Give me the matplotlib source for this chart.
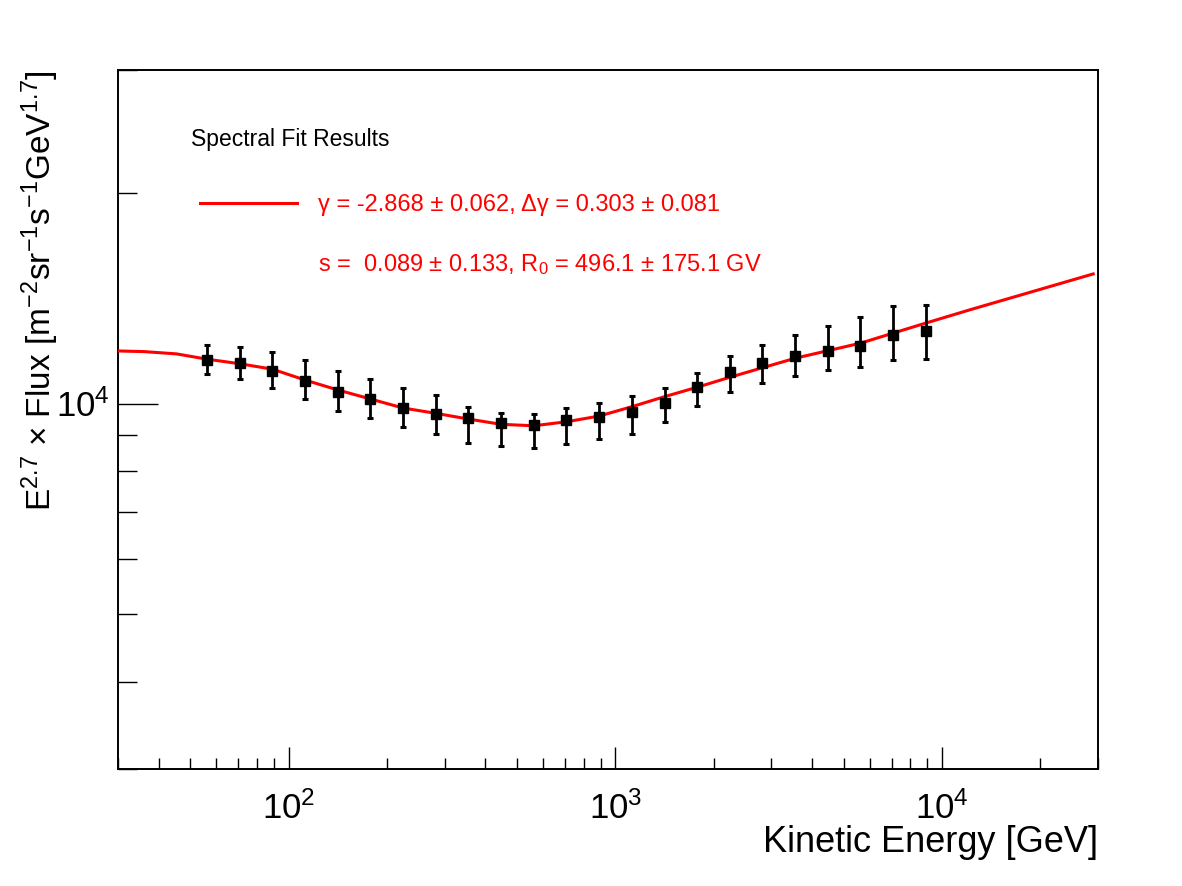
import matplotlib as mpl
mpl.use("Agg")
import matplotlib.pyplot as plt
from matplotlib.ticker import LogLocator, NullFormatter, LogFormatterSciNotation

plt.rcParams["font.family"] = ["Liberation Sans", "DejaVu Sans"]
plt.rcParams["mathtext.fontset"] = "custom"
plt.rcParams["mathtext.rm"] = "Liberation Sans"
plt.rcParams["mathtext.it"] = "Liberation Sans:italic"
plt.rcParams["mathtext.bf"] = "Liberation Sans:bold"

# ---- data points ----
energy = [56.2, 70.8, 89.1, 112.2, 141.3, 177.8, 223.9, 281.8, 354.8, 446.7, 562.3, 707.9,
          891.3, 1122, 1413, 1778, 2239, 2818, 3548, 4467, 5623, 7079, 8913]
flux = [11546, 11422, 11146, 10783, 10397, 10150, 9843, 9659, 9542, 9368, 9315, 9461,
        9564, 9732, 10016, 10560, 11108, 11422, 11711, 11895, 12105, 12542, 12679]
err_up = [587, 618, 698, 763, 736, 695, 682, 626, 333, 324, 344, 382,
          462, 519, 503, 512, 579, 699, 831, 1012, 1203, 1227, 1167]
err_lo = [533, 577, 631, 644, 642, 626, 581, 602, 756, 678, 673, 704,
          680, 691, 614, 642, 721, 711, 749, 737, 835, 986, 1115]

# ---- fitted curve ----
fit_e = [30, 36, 45.3, 56.2, 70.8, 89.1, 112.2, 141.3, 177.8, 223.9, 281.8, 354.8, 446.7,
         562.3, 707.9, 891.3, 1122, 1413, 1778, 2239, 3548, 5623, 8913, 12180, 29000]
fit_flux = [11890, 11865, 11776, 11572, 11400, 11197, 10803, 10456, 10150, 9852, 9682, 9501,
            9337, 9293, 9416, 9595, 9895, 10228, 10550, 10903, 11608, 12199, 13034, 13619,
            15324]

title_txt = "Spectral Fit Results"
fit_line1 = "γ = -2.868 ± 0.062, Δγ = 0.303 ± 0.081"
fit_line2 = "s =  0.089 ± 0.133, R$_0$ = 496.1 ± 175.1 GV"

W, H = 1182, 886
fig = plt.figure(figsize=(W / 100, H / 100), dpi=100)
ax = fig.add_axes([118 / W, 1 - 769 / H, 980 / W, 699 / H])

ax.plot(fit_e, fit_flux, color="#ff0000", lw=2.2, zorder=3)
ax.errorbar(energy, flux, yerr=[err_lo, err_up], fmt="s", color="black",
            ms=7, elinewidth=2.0, capsize=2.5, capthick=2.2, zorder=4)

ax.set_xscale("log")
ax.set_yscale("log")
ax.set_xlim(30, 30000)
ax.set_ylim(3000, 30000)

# ROOT-like ticks: inside, only bottom/left
ax.xaxis.set_major_locator(LogLocator(base=10))
ax.xaxis.set_minor_locator(LogLocator(base=10, subs=range(2, 10)))
ax.yaxis.set_major_locator(LogLocator(base=10))
ax.yaxis.set_minor_locator(LogLocator(base=10, subs=range(2, 10)))
ax.xaxis.set_major_formatter(LogFormatterSciNotation())
ax.yaxis.set_major_formatter(LogFormatterSciNotation())
ax.xaxis.set_minor_formatter(NullFormatter())
ax.yaxis.set_minor_formatter(NullFormatter())

ax.tick_params(axis="x", which="major", direction="in", length=16, width=1.0,
               labelsize=25, pad=16, top=False)
ax.tick_params(axis="x", which="minor", direction="in", length=8, width=1.0, top=False)
ax.tick_params(axis="y", which="major", direction="in", length=29, width=1.0,
               labelsize=25, pad=6, right=False)
ax.tick_params(axis="y", which="minor", direction="in", length=14, width=1.0, right=False)
for sp in ax.spines.values():
    sp.set_linewidth(1.4)

# legend block
ax.text(0.0745, 0.8913, title_txt, transform=ax.transAxes, fontsize=16.5,
        color="black", ha="left", va="baseline")
ax.plot([0.0837, 0.1827], [0.8097, 0.8097], transform=ax.transAxes,
        color="#ff0000", lw=2.2, clip_on=False)
ax.text(0.204, 0.7983, fit_line1, transform=ax.transAxes, fontsize=17,
        color="#ff0000", ha="left", va="baseline")
ax.text(0.204, 0.7124, fit_line2, transform=ax.transAxes, fontsize=17,
        color="#ff0000", ha="left", va="baseline")

# axis titles
fig.text(1098 / W, 1 - 860 / H, "Kinetic Energy [GeV]", fontsize=26,
         ha="right", va="bottom")
fig.text(40 / W, 1 - 70 / H,
         "E$^{2.7}$ × Flux [m$^{-2}$sr$^{-1}$s$^{-1}$GeV$^{1.7}$]",
         fontsize=24, rotation=90, ha="center", va="top")

fig.savefig("out.png", dpi=100, facecolor="white")
